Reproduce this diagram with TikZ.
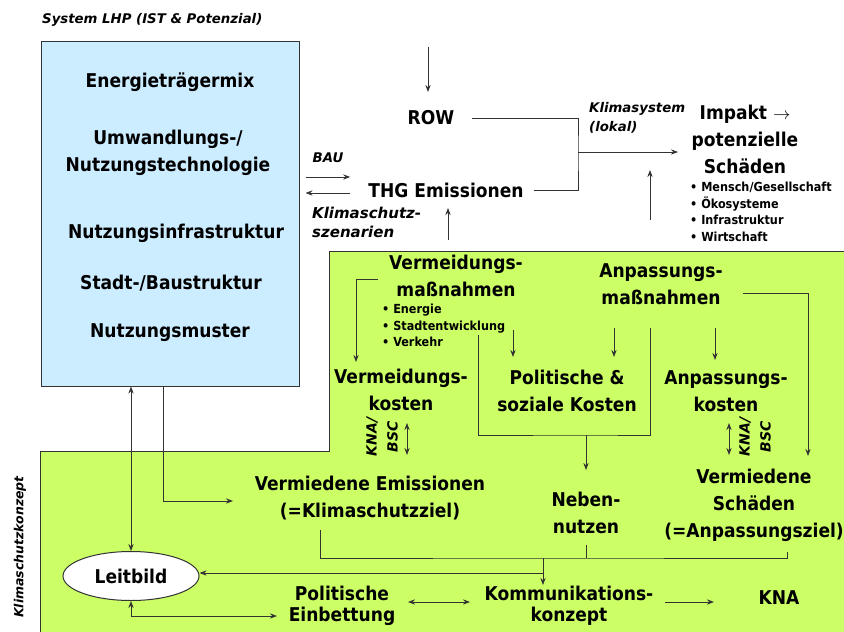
\documentclass[tikz,border=0pt]{standalone}
\usepackage{fontspec}
\setmainfont{DejaVu Sans Condensed}
\newfontfamily\schraeg{DejaVu Sans}
\usetikzlibrary{arrows.meta,shapes.geometric}

\definecolor{lhpblau}{HTML}{CCECFF}
\definecolor{konzeptgruen}{HTML}{CCFF66}
\definecolor{rand}{HTML}{333333}

\tikzset{
  gross/.style={font=\bfseries\fontsize{19}{27}\selectfont, align=center, inner sep=0pt},
  eng/.style={font=\bfseries\fontsize{19}{21}\selectfont, align=center, inner sep=0pt},
  punkte/.style={font=\bfseries\fontsize{12.5}{16.5}\selectfont, align=left, inner sep=0pt},
  kursiv/.style={font=\schraeg\bfseries\itshape\fontsize{13.3}{18.5}\selectfont, align=left, inner sep=0pt},
  linie/.style={draw=rand, line width=0.9pt},
  pfeil/.style={linie, -Stealth},
  dpfeil/.style={linie, Stealth-Stealth},
}

\begin{document}
\begin{tikzpicture}[x=1pt,y=-1pt]
\useasboundingbox (0,0) rectangle (844,632);

\fill[konzeptgruen] (40,634) -- (40,451) -- (329,451) -- (329,251) -- (846,251) -- (846,634) -- cycle;
\draw[rand, line width=1pt] (40,634) -- (40,451) -- (329,451) -- (329,251) -- (846,251);

\node[draw=rand, fill=lhpblau, line width=1pt, minimum width=258pt, minimum height=345pt, inner sep=0pt] (lhp) at (170,213.5) {};
\node[kursiv, anchor=west] (titel) at (42,20) {System LHP (IST \& Potenzial)};
\node[gross] (mix) at (170,82) {Energieträgermix};
\node[gross] (technik) at (168,153) {Umwandlungs-/\\Nutzungstechnologie};
\node[gross] (infra) at (176,233) {Nutzungsinfrastruktur};
\node[gross] (stadtbau) at (171,283) {Stadt-/Baustruktur};
\node[gross] (muster) at (170,333) {Nutzungsmuster};

\node[gross] (row) at (431,118) {ROW};
\node[gross] (thg) at (446,190) {THG Emissionen};
\node[kursiv] (bau) at (328,158) {BAU};
\node[kursiv, anchor=west, font=\schraeg\bfseries\itshape\fontsize{15}{19}\selectfont] (szen) at (312,222) {Klimaschutz-\\szenarien};
\node[kursiv, anchor=west] (klimasys) at (589,118) {Klimasystem\\(lokal)};
\node[gross] (impakt) at (745,139) {Impakt $\rightarrow$\\potenzielle\\Schäden};
\node[punkte, anchor=north west] (folgen) at (690,182) {• Mensch/Gesellschaft\\• Ökosysteme\\• Infrastruktur\\• Wirtschaft};

\node[gross] (vm) at (456,276) {Vermeidungs-\\maßnahmen};
\node[punkte, anchor=north west] (vmliste) at (382,304) {• Energie\\• Stadtentwicklung\\• Verkehr};
\node[gross] (am) at (661,284) {Anpassungs-\\maßnahmen};
\node[gross] (vk) at (401,390) {Vermeidungs-\\kosten};
\node[gross] (psk) at (567,391) {Politische \&\\soziale Kosten};
\node[gross] (ak) at (726,391) {Anpassungs-\\kosten};
\node[kursiv, align=center, rotate=90, font=\schraeg\bfseries\itshape\fontsize{14}{21}\selectfont] (vkbsc) at (382,437) {KNA/\\BSC};
\node[kursiv, align=center, rotate=90, font=\schraeg\bfseries\itshape\fontsize{14}{21}\selectfont] (akbsc) at (755,437) {KNA/\\BSC};
\node[gross] (ve) at (370,498) {Vermiedene Emissionen\\(=Klimaschutzziel)};
\node[gross] (nn) at (586,513) {Neben-\\nutzen};
\node[gross] (vs) at (754,505) {Vermiedene\\Schäden\\(=Anpassungsziel)};
\node[gross, ellipse, draw=rand, fill=white, line width=1pt, minimum width=136pt, minimum height=49pt] (leitbild) at (131,576) {Leitbild};
\node[eng] (pe) at (342,606) {Politische\\Einbettung};
\node[eng] (kk) at (569,606) {Kommunikations-\\konzept};
\node[gross] (kna) at (779,598) {KNA};
\node[kursiv, rotate=90, font=\schraeg\bfseries\itshape\fontsize{12.5}{15}\selectfont] (konzept) at (20,547) {Klimaschutzkonzept};

\coordinate (rowin) at (428,47);
\coordinate (rowziel) at (428,92);
\coordinate (knick) at (578,152);
\coordinate (impziel) at (678,152);
\coordinate (bauy) at (0,177);
\coordinate (szeny) at (0,193);
\coordinate (thgin) at (448,240);
\coordinate (thgziel) at (448,208);
\coordinate (impin) at (650,220);
\coordinate (impoben) at (650,170);
\coordinate (vmab) at (378,279);
\coordinate (vkein) at (356,362);
\coordinate (stadtab) at (478,335);
\coordinate (klammer) at (586,435);
\coordinate (amab) at (650,328);
\coordinate (nnein) at (586,470);
\coordinate (vmpsk) at (513,330);
\coordinate (pskein) at (513,357);
\coordinate (ampsk) at (614,328);
\coordinate (pskein2) at (614,357);
\coordinate (amak) at (715,328);
\coordinate (akein) at (715,360);
\coordinate (amvs) at (743,293);
\coordinate (vsein) at (808,456);
\coordinate (vkoben) at (407,423);
\coordinate (vkunten) at (407,455);
\coordinate (akoben) at (729,423);
\coordinate (akunten) at (729,455);
\coordinate (veein) at (233,501);
\coordinate (veab) at (320,530);
\coordinate (nnab) at (586,545);
\coordinate (vsab) at (787,552);
\coordinate (sammel) at (543,558);
\coordinate (kkein) at (543,585);
\coordinate (leitrueck) at (543,573);
\coordinate (peein) at (277,616);
\coordinate (pepfeil) at (408,602);
\coordinate (kkpfeil) at (470,602);
\coordinate (kkab) at (665,602);
\coordinate (knaein) at (714,602);

\draw[pfeil] (rowin) -- (rowziel);
\draw[linie] ([xshift=18pt]row.east) -| (knick) |- ([xshift=10pt]thg.east);
\draw[pfeil] (knick) -- (impziel);
\draw[pfeil, shorten <=6pt, shorten >=18pt] (lhp.east |- bauy) -- (thg.west |- bauy);
\draw[pfeil, shorten <=18pt, shorten >=6pt] (thg.west |- szeny) -- (lhp.east |- szeny);
\draw[pfeil] (thgin) -- (thgziel);
\draw[pfeil] (impin) -- (impoben);
\draw[pfeil] (vmab) -| (vkein);
\draw[linie] (stadtab) |- (klammer) -| (amab);
\draw[pfeil] (klammer) -- (nnein);
\draw[pfeil] (vmpsk) -- (pskein);
\draw[pfeil] (ampsk) -- (pskein2);
\draw[pfeil] (amak) -- (akein);
\draw[pfeil] (amvs) -| (vsein);
\draw[dpfeil] (vkoben) -- (vkunten);
\draw[dpfeil] (akoben) -- (akunten);
\draw[pfeil] ([xshift=-7pt]lhp.south) |- (veein);
\draw[dpfeil] (leitbild.north) -- (leitbild.north |- lhp.south);
\draw[linie] (veab) |- (sammel) -| (vsab);
\draw[linie] (nnab) -- (nnab |- sammel);
\draw[pfeil] (sammel) -- (kkein);
\draw[pfeil] (leitrueck) -- (leitrueck -| leitbild.east);
\draw[dpfeil] (leitbild.south) |- (peein);
\draw[dpfeil] (pepfeil) -- (kkpfeil);
\draw[pfeil] (kkab) -- (knaein);
\end{tikzpicture}
\end{document}
